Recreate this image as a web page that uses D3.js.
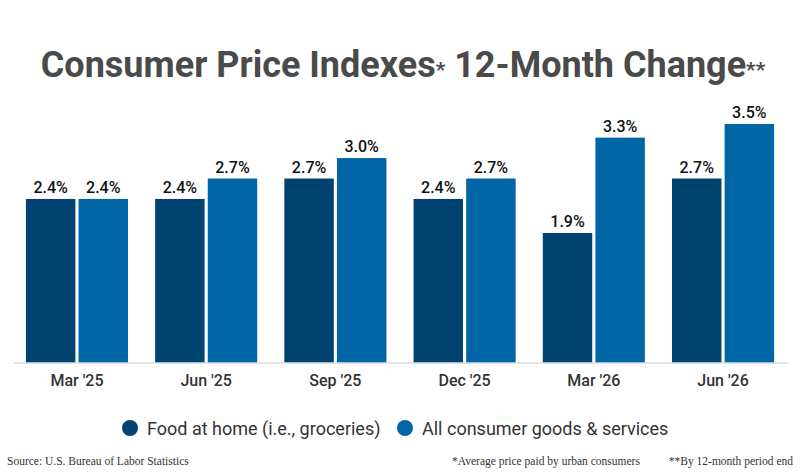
<!DOCTYPE html>
<html><head><meta charset="utf-8">
<script src="https://cdn.jsdelivr.net/npm/d3@7"></script>
<style>body{margin:0;background:#fff}</style>
</head><body>
<svg id="chart" width="800" height="475"></svg>
<script>
// chart data
var periods = ["Mar '25", "Jun '25", "Sep '25", "Dec '25", "Mar '26", "Jun '26"];
var food = [2.4, 2.4, 2.7, 2.4, 1.9, 2.7];
var allItems = [2.4, 2.7, 3.0, 2.7, 3.3, 3.5];
var seriesNames = ["Food at home (i.e., groceries)", "All consumer goods & services"];
var colors = ["#004370", "#0066a6"];

var svg = d3.select("#chart");

// title
var title = svg.append("text").attr("x", 403).attr("y", 77).attr("text-anchor", "middle")
  .attr("font-family", "Roboto").attr("font-weight", "bold").attr("fill", "#4a4a4a").attr("font-size", 36);
title.append("tspan").text("Consumer Price Indexes");
title.append("tspan").attr("font-size", 21).text("*");
title.append("tspan").text(" 12-Month Change");
title.append("tspan").attr("font-size", 21).text("**");

var x = d3.scaleBand().domain(periods).range([13, 787]).paddingInner(0.21).paddingOuter(0.1);
var x1 = d3.scaleBand().domain([0, 1]).range([0, x.bandwidth()]).paddingInner(0.06);
var y = d3.scaleLinear().domain([0, 3.5]).range([362.5, 124]);

var groups = svg.selectAll("g.grp").data(periods).enter().append("g")
  .attr("transform", d => "translate(" + x(d) + ",0)");

groups.each(function(p, i) {
  var g = d3.select(this);
  [food[i], allItems[i]].forEach(function(v, s) {
    g.append("rect").attr("x", x1(s)).attr("width", x1.bandwidth())
      .attr("y", y(v)).attr("height", y(0) - y(v)).attr("fill", colors[s]);
    g.append("text").attr("x", x1(s) + x1.bandwidth() / 2).attr("y", y(v) - 6)
      .attr("text-anchor", "middle").attr("font-family", "Roboto").attr("font-size", 16)
      .attr("font-weight", 500).attr("fill", "#111").text(v.toFixed(1) + "%");
  });
});

// x axis labels
var xAxis = svg.append("g").attr("transform", "translate(0,362.5)")
  .call(d3.axisBottom(x).tickSize(0).tickPadding(12));
xAxis.select(".domain").attr("stroke", "#ccc");
xAxis.selectAll("text").attr("font-family", "Roboto").attr("font-size", 16)
  .attr("font-weight", 500).attr("fill", "#333");

// legend
var legend = svg.append("g").attr("font-family", "Roboto").attr("font-size", 18).attr("fill", "#333");
var lx = [130, 405];
seriesNames.forEach(function(n, s) {
  legend.append("circle").attr("cx", lx[s]).attr("cy", 428).attr("r", 8).attr("fill", colors[s]);
  legend.append("text").attr("x", lx[s] + 17).attr("y", 434.5).text(n);
});

// footer
var foot = svg.append("g").attr("font-family", "Liberation Serif").attr("font-size", 11.5).attr("fill", "#333");
foot.append("text").attr("x", 7).attr("y", 465).text("Source: U.S. Bureau of Labor Statistics");
foot.append("text").attr("x", 452).attr("y", 465).text("*Average price paid by urban consumers");
foot.append("text").attr("x", 793).attr("y", 465).attr("text-anchor", "end").text("**By 12-month period end");
</script>
</body></html>
